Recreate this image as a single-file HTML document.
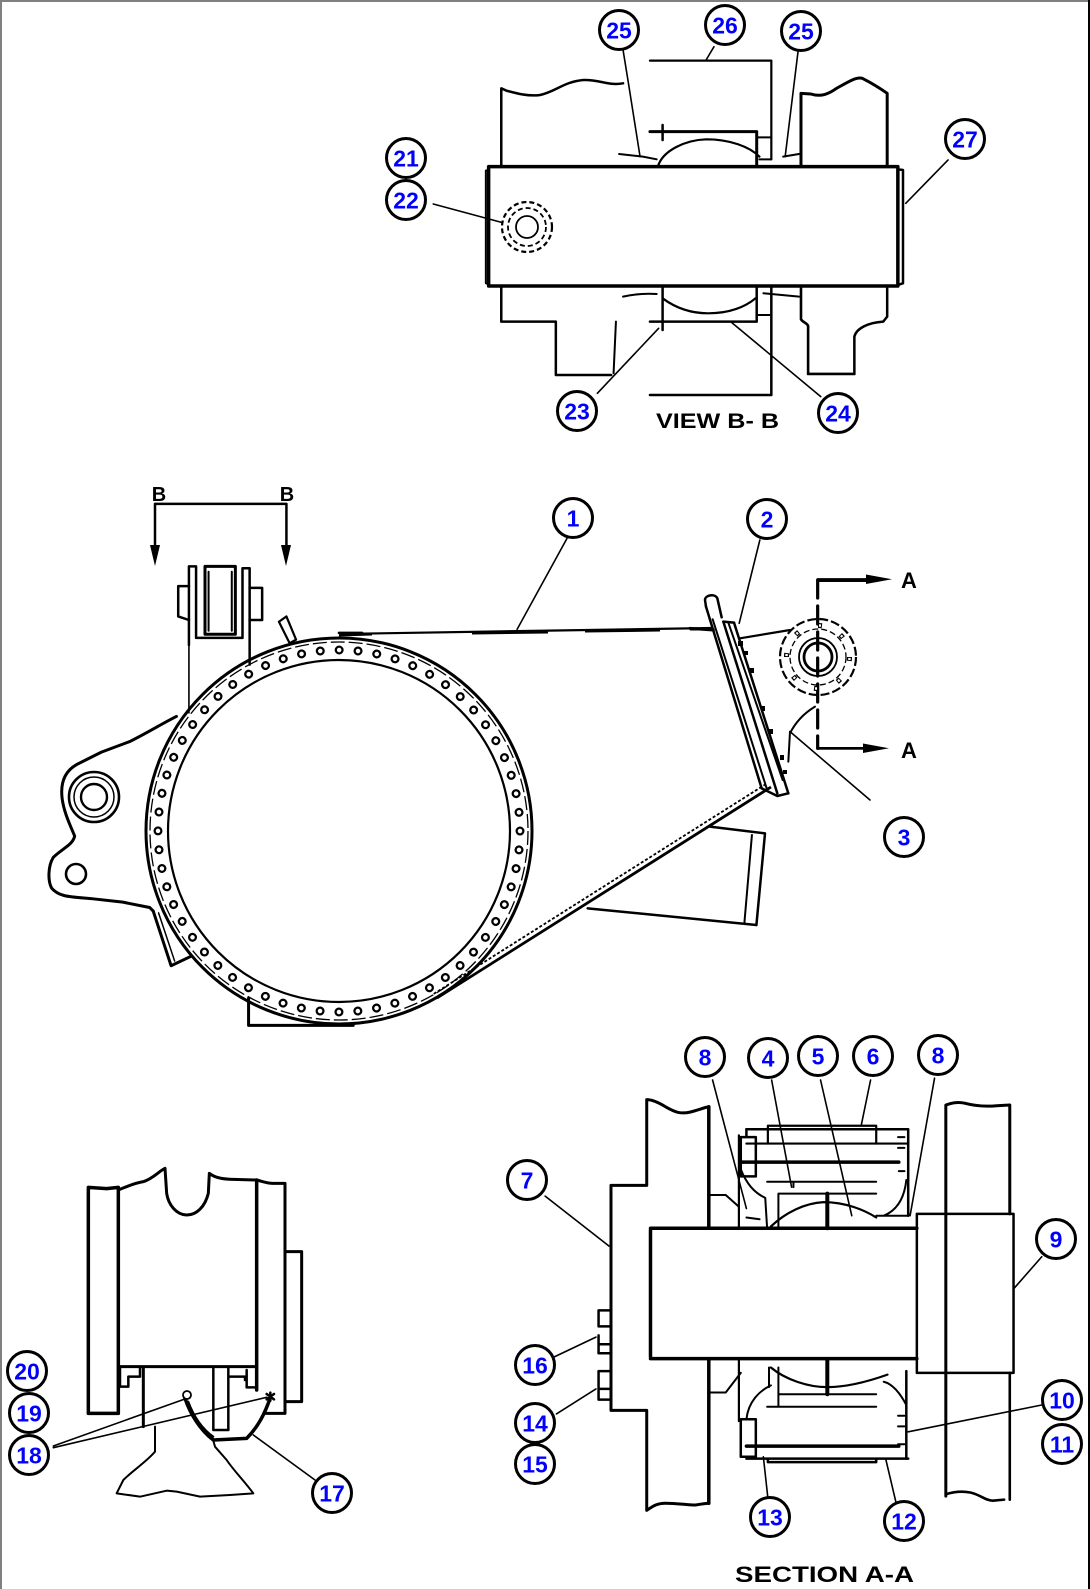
<!DOCTYPE html>
<html><head><meta charset="utf-8"><style>
html,body{margin:0;padding:0;background:#fff;}
svg{display:block;}
.l path,.l line,.l rect,.l polyline{vector-effect:non-scaling-stroke;fill:none;stroke:#000;stroke-linejoin:round;stroke-linecap:round;}
.bub circle{fill:#fff;stroke:#000;stroke-width:3;}
.bub text{font-family:"Liberation Sans",sans-serif;font-weight:bold;font-size:23px;fill:#0000ff;text-anchor:middle;}
.lbl{font-family:"Liberation Sans",sans-serif;font-weight:bold;fill:#000;}
</style></head><body>
<svg width="1090" height="1590" viewBox="0 0 1090 1590" xmlns="http://www.w3.org/2000/svg">
<rect x="0" y="0" width="1090" height="1590" fill="#fff"/>
<rect x="0" y="0" width="1090" height="2" fill="#808080"/>
<rect x="0" y="0" width="2" height="1590" fill="#808080"/>
<rect x="1088" y="0" width="2" height="1590" fill="#000"/>
<rect x="0" y="1589" width="1090" height="1" fill="#d4d0c8"/>

<!-- ================= VIEW B-B ================= -->
<g class="l" transform="translate(370,0) scale(0.3954,0.3333)">
 <path stroke-width="2.5" d="M332,500 L332,265 L345,272 C370,280 400,290 430,285 C470,275 490,245 540,240 C580,238 600,258 640,250"/>
 <path stroke-width="3" d="M1090,500 L1090,280 L1115,282 C1140,292 1160,282 1180,265 C1210,245 1230,230 1245,235 C1270,250 1290,265 1308,280 L1308,500"/>
 <path stroke-width="3.5" d="M300,500 L1335,500 L1335,858 L300,858 Z"/>
 <path stroke-width="2" d="M300,510 L293,512 L293,850 L300,852"/>
 <path stroke-width="2.5" d="M1335,508 L1348,510 L1348,850 L1335,855"/>
 <path stroke-width="3" d="M708,395 L978,395 L978,500"/>
 <path stroke-width="2.5" d="M740,375 L740,420"/>
 <path stroke-width="2.2" d="M728,500 C740,450 800,420 850,418 C910,418 960,440 985,470"/>
 <path stroke-width="2" d="M978,412 L1015,412 M985,478 L1015,478"/>
 <path stroke-width="2.2" d="M708,182 L1015,182 L1015,478"/>
 <path stroke-width="2" d="M630,462 L690,470 L725,478 M1045,470 L1085,462"/>
 <path stroke-width="2.5" d="M332,862 L332,965 L470,965 L470,1125 L610,1125"/>
 <path stroke-width="2" d="M622,965 L616,1120"/>
 <path stroke-width="2.5" d="M740,862 L740,990"/>
 <path stroke-width="2.5" d="M708,965 L978,965 L978,862"/>
 <path stroke-width="2.2" d="M740,895 C780,930 820,940 855,940 C910,940 950,920 975,895"/>
 <path stroke-width="2" d="M978,945 L1015,945"/>
 <path stroke-width="2.5" d="M1015,862 L1015,1185 L708,1185"/>
 <path stroke-width="2" d="M640,890 C670,882 700,880 725,882 M995,880 L1085,890"/>
 <path stroke-width="2.6" d="M1090,862 L1090,958 C1095,968 1105,968 1108,978 L1108,1122 L1225,1122"/>
 <path stroke-width="2.5" d="M1225,1120 L1225,1010 C1230,985 1260,968 1298,965 L1308,950 L1308,862"/>
 <path stroke-width="1.6" d="M640,150 L655,260 L683,470"/>
 <path stroke-width="1.6" d="M1083,150 L1050,470"/>
 <path stroke-width="1.6" d="M870,140 L850,180"/>
 <path stroke-width="1.6" d="M575,1180 L730,985"/>
 <path stroke-width="1.6" d="M1140,1190 L915,968"/>
 <path stroke-width="1.6" d="M160,612 L335,668"/>
 <path stroke-width="1.6" d="M1462,480 L1355,610"/>
</g>
<g fill="none" stroke="#000">
 <circle cx="527" cy="227" r="25" stroke-width="2.2" stroke-dasharray="5 3"/>
 <circle cx="527" cy="227" r="19" stroke-width="1.8" stroke-dasharray="5 3"/>
 <circle cx="527" cy="227" r="11" stroke-width="1.8"/>
</g>
<text class="lbl" x="656" y="428" font-size="21" textLength="123" lengthAdjust="spacingAndGlyphs">VIEW  B- B</text>

<!-- ================= MAIN VIEW ================= -->
<g fill="none" stroke="#000">
 <circle cx="339" cy="831" r="193" stroke-width="3"/>
 <circle cx="339" cy="831" r="189" stroke-width="1.3" stroke-dasharray="14 4"/>
 <circle cx="339" cy="831" r="171" stroke-width="2.2"/>
 <circle cx="339" cy="831" r="181" stroke-width="9" stroke-linecap="round" stroke-dasharray="0.01 18.94"/>
 <circle cx="339" cy="831" r="181" stroke="#fff" stroke-width="4.5" stroke-linecap="round" stroke-dasharray="0.01 18.94"/>
</g>
<g class="l" transform="translate(30,470) scale(0.35714)">
 <path stroke-width="2.5" d="M350,95 L718,95 M350,95 L350,230 M718,95 L718,230"/>
 <path stroke-width="3" d="M410,690 C370,710 330,735 280,760 L200,790 L130,825 C95,845 85,880 90,920 C95,960 115,1000 125,1025 C120,1050 90,1060 65,1085 C50,1110 50,1150 60,1170 C80,1195 110,1195 170,1200 L260,1210 L335,1225 L345,1235"/>
 <path stroke-width="3" d="M345,1235 L395,1388 L450,1362"/>
 <path stroke-width="1.5" d="M360,1240 L405,1375"/>
 <path stroke-width="3" d="M612,1478 L612,1555 L905,1555"/>
 <path stroke-width="2.5" d="M445,325 L415,325 L415,410 L445,420"/>
 <path stroke-width="2.5" d="M445,490 L445,270 L465,270 L465,470 L595,470 L595,275 L615,275 L615,545"/>
 <path stroke-width="2.5" d="M615,330 L650,330 L650,420 L615,420"/>
 <path stroke-width="3" d="M490,270 L575,270 L575,460 L490,460 Z"/>
 <path stroke-width="2" d="M500,285 L500,450 M565,285 L565,450"/>
 <path stroke-width="1.6" d="M445,490 L445,680"/>
 <path stroke-width="2.2" d="M697,425 L718,410 L745,475 L727,485 Z"/>
 <path stroke-width="2.5" d="M865,456 L930,456"/>
</g>
<polygon points="150,545 160,545 155,566" fill="#000"/>
<polygon points="281,545 291,545 286,566" fill="#000"/>
<text class="lbl" x="159" y="501" font-size="20" text-anchor="middle">B</text>
<text class="lbl" x="287" y="501" font-size="20" text-anchor="middle">B</text>
<g fill="none" stroke="#000">
 <circle cx="94" cy="797" r="25" stroke-width="2.6"/>
 <circle cx="94" cy="797" r="20" stroke-width="1.5"/>
 <circle cx="94" cy="797" r="13" stroke-width="2.4"/>
 <circle cx="76" cy="874" r="10" stroke-width="2.6"/>
</g>
<g stroke="#000" fill="none">
 <path d="M339,634 L712,628" stroke-width="2.2"/>
 <path d="M339,635 L372,634 M472,633 L548,632 M585,631 L660,630 M690,629 L712,629" stroke-width="3"/>
 <path d="M771,787 L437,998" stroke-width="2.8"/>
 <path d="M766,784 L432,995" stroke-width="1.8" stroke-dasharray="3 2"/>
</g>
<g class="l" transform="translate(400,490) scale(0.34435,0.33333)">
 <path stroke-width="2.5" d="M900,1010 L1060,1030 L1035,1305"/>
 <path stroke-width="2" d="M1022,1035 L1000,1300"/>
 <path stroke-width="2.5" d="M545,1255 L1035,1305"/>
 <path stroke-width="2.5" d="M1213,268 L1360,268 M1213,775 L1350,775"/>
 <path stroke-width="1.6" d="M485,145 L340,418"/>
 <path stroke-width="1.6" d="M1045,150 L985,400"/>
</g>
<polygon points="866,574.5 892,579.3 866,584" fill="#000"/>
<polygon points="863,743.5 889,748.3 863,753" fill="#000"/>
<text class="lbl" x="909" y="588" font-size="22" text-anchor="middle">A</text>
<text class="lbl" x="909" y="758" font-size="22" text-anchor="middle">A</text>
<g class="l" transform="translate(690,580) scale(0.33333)">
 <path stroke-width="2.5" d="M48,80 L45,60 C45,45 75,40 82,55 L95,112"/>
 <path stroke-width="2.5" d="M48,80 L215,625"/>
 <path stroke-width="2" d="M68,118 L230,625"/>
 <path stroke-width="2.5" d="M100,125 L262,640"/>
 <path stroke-width="2" d="M115,128 L278,600"/>
 <path stroke-width="2.5" d="M132,128 L295,640"/>
 <path stroke-width="2.5" d="M215,625 L262,648 L295,640"/>
 <path stroke-width="2.5" d="M100,125 L132,128"/>
 <path stroke-width="3" d="M0,145 L70,150"/>
 <path stroke-width="2.2" d="M150,175 L300,150"/>
 <path stroke-width="2" d="M300,460 C320,420 350,395 375,380 M300,455 L295,545"/>
 <path stroke-width="1.6" d="M300,455 L540,660"/>
 <path stroke-width="3.2" stroke-dasharray="18 8" d="M383,0 L383,505"/>
 <path stroke-width="2.6" d="M383,2 L540,2 M383,505 L540,505"/>
</g>
<g fill="#000">
 <rect x="738" y="641" width="5" height="5"/>
 <rect x="744" y="651" width="4" height="4"/>
 <rect x="749" y="668" width="5" height="5"/>
 <rect x="761" y="706" width="4" height="5"/>
 <rect x="768" y="729" width="5" height="5"/>
 <rect x="780" y="755" width="4" height="5"/>
 <rect x="783" y="770" width="4" height="4"/>
</g>
<g fill="none" stroke="#000">
 <circle cx="818" cy="657" r="38" stroke-width="2.2" stroke-dasharray="9 3"/>
 <circle cx="818" cy="657" r="28" stroke-width="1.3" stroke-dasharray="6 3"/>
 <circle cx="818" cy="657" r="19" stroke-width="1.8"/>
 <circle cx="818" cy="657" r="14" stroke-width="2.8"/>
 <circle cx="818" cy="657" r="31.5" stroke-width="5" stroke-dasharray="4 20.7"/>
 <circle cx="818" cy="657" r="31.5" stroke="#fff" stroke-width="2.5" stroke-dasharray="2 22.7" stroke-dashoffset="-1"/>
</g>

<!-- ================= SECTION A-A ================= -->
<g class="l" transform="translate(500,1030) scale(0.37622,0.35714)">
 <path stroke-width="3" d="M555,215 C540,218 525,225 505,230 C480,236 465,230 440,215 C420,202 405,195 390,195 L390,435 L295,435 L295,1065 L390,1065 L390,1345 C405,1335 415,1325 440,1325 C470,1325 500,1330 520,1330 C535,1328 545,1325 555,1325"/>
 <path stroke-width="3.5" d="M555,215 L555,555 M555,925 L555,1325"/>
 <path stroke-width="3" d="M1185,1305 L1185,210 C1200,205 1215,200 1235,205 C1260,212 1290,215 1320,212 L1355,210 L1355,515"/>
 <path stroke-width="2.6" d="M1355,960 L1355,1315 M1185,1300 C1200,1295 1225,1290 1250,1295 C1275,1300 1290,1318 1310,1318 L1340,1315"/>
 <path stroke-width="3.5" d="M400,555 L1108,555 M400,920 L1108,920 M400,560 L400,915"/>
 <path stroke-width="2.5" d="M1108,515 L1365,515 L1365,960 L1108,960 Z"/>
 <path stroke-width="2.5" d="M262,785 L295,785 M262,785 L262,830 L295,830 M262,855 L262,905 L295,905 M262,880 L295,880 M262,955 L295,955 L295,1035 L262,1035 Z M262,1005 L295,1005"/>
 <path stroke-width="2.5" d="M655,278 L1085,278 L1085,520"/>
 <path stroke-width="2.2" d="M712,268 L1000,268 L1000,318 M712,268 L712,318"/>
 <path stroke-width="2.2" d="M655,318 L1085,318"/>
 <path stroke-width="3.5" d="M640,370 L1060,370"/>
 <path stroke-width="2" d="M710,425 L1000,425 M740,458 L1000,458 M740,458 L740,555 M780,425 L780,440"/>
 <path stroke-width="2.5" d="M640,300 L680,300 L680,410 L640,410 Z M655,278 L655,300"/>
 <path stroke-width="2.2" d="M635,295 L635,555"/>
 <path stroke-width="2" d="M640,390 C655,430 675,455 705,470 L710,555"/>
 <path stroke-width="2" d="M1080,420 C1075,470 1055,505 1020,520 M1000,520 L1085,520"/>
 <path stroke-width="2.2" d="M720,550 C760,510 810,485 860,482 C920,482 970,505 1000,525"/>
 <path stroke-width="4" d="M870,458 L870,555 M870,925 L870,1020"/>
 <path stroke-width="2" d="M560,462 L600,462 L635,495 M655,525 L690,530"/>
 <path stroke-width="2" d="M1058,300 L1075,300 M1058,330 L1075,330 M1060,395 L1075,395"/>
 <path stroke-width="2.2" d="M635,925 L635,1095"/>
 <path stroke-width="2.2" d="M720,945 C760,980 820,1000 870,1000 C930,1000 990,980 1030,965"/>
 <path stroke-width="2" d="M740,1020 L1000,1020 M740,945 L740,1055 M710,1055 L1000,1055 M715,945 L715,1000"/>
 <path stroke-width="3.5" d="M655,1165 L1060,1165"/>
 <path stroke-width="2.5" d="M655,1200 L1085,1200 M712,1200 L712,1210 L1000,1210 L1000,1200"/>
 <path stroke-width="2.5" d="M640,1090 L680,1090 L680,1195 L640,1195 Z"/>
 <path stroke-width="2.5" d="M1080,955 L1080,1200"/>
 <path stroke-width="2" d="M655,1090 C660,1040 690,1010 720,995 M1080,1050 C1060,1010 1040,990 1020,985"/>
 <path stroke-width="2" d="M560,1015 L600,1015 L640,960"/>
 <path stroke-width="2" d="M1058,1080 L1075,1080 M1058,1110 L1075,1110 M1058,1160 L1075,1160"/>
 <path stroke-width="1.6" d="M565,140 L655,500 M722,140 L775,440 M852,140 L935,520 M985,140 L960,268 M1155,135 L1090,520"/>
 <path stroke-width="1.6" d="M120,465 L290,605 M1440,635 L1365,725 M145,915 L255,860 M150,1075 L255,1005 M1440,1050 L1085,1125 M713,1320 L700,1195 M1053,1325 L1025,1200"/>
</g>
<text class="lbl" x="735" y="1582" font-size="22" textLength="179" lengthAdjust="spacingAndGlyphs">SECTION  A-A</text>

<!-- ================= LOWER-LEFT VIEW ================= -->
<g class="l" transform="translate(0,1150) scale(0.33333)">
 <path stroke-width="3.5" d="M265,790 L265,112 L320,116 L355,112 L355,790 Z"/>
 <path stroke-width="3" d="M355,120 C380,110 400,100 430,95 C460,85 475,65 495,55 L500,130 C505,165 530,195 560,195 C590,195 615,170 625,130 L628,70 C640,80 660,88 700,88 L770,90"/>
 <path stroke-width="3" d="M355,650 L770,650"/>
 <path stroke-width="3.5" d="M770,90 L770,720"/>
 <path stroke-width="3" d="M770,90 C790,95 800,100 820,100 L855,100 L855,790 L795,790"/>
 <path stroke-width="3" d="M855,305 L905,305 L905,755 L855,755"/>
 <path stroke-width="2.5" d="M360,655 L360,710 L385,710 L385,680 L420,680 L420,655"/>
 <path stroke-width="3" d="M430,655 L430,830"/>
 <path stroke-width="2.5" d="M640,655 L640,840 L685,840 L685,655"/>
 <path stroke-width="2.5" d="M690,680 L735,680 L735,690 M740,660 L740,712 L765,712"/>
 <path stroke-width="3.5" d="M555,745 C570,790 600,840 640,870 L740,865 C775,830 795,790 812,740"/>
 <path stroke-width="2" d="M565,755 C580,795 605,835 640,860"/>
 <path stroke-width="2" d="M465,830 L465,905 C440,935 400,960 370,990 L350,1030 L420,1040 L500,1022 L530,1025 L600,1040 L690,1035 L760,1030 C730,990 700,960 680,930 L645,890 L640,872"/>
 <path stroke-width="1.6" d="M160,888 L560,745 M160,893 L800,742 M945,990 L760,855"/>
 <path stroke-width="2.5" d="M800,732 L822,748 M822,732 L800,748 M811,728 L811,752"/>
</g>
<circle cx="187" cy="1395" r="4" fill="#fff" stroke="#000" stroke-width="1.8"/>

<!-- ================= BUBBLES ================= -->
<g class="bub">
 <g><circle cx="619" cy="30" r="19.5"/><text x="619" y="38.5">25</text></g>
 <g><circle cx="725" cy="25" r="19.5"/><text x="725" y="33.5">26</text></g>
 <g><circle cx="801" cy="31" r="19.5"/><text x="801" y="39.5">25</text></g>
 <g><circle cx="965" cy="139" r="19.5"/><text x="965" y="147.5">27</text></g>
 <g><circle cx="406" cy="158" r="19.5"/><text x="406" y="166.5">21</text></g>
 <g><circle cx="406" cy="200" r="19.5"/><text x="406" y="208.5">22</text></g>
 <g><circle cx="577" cy="411" r="19.5"/><text x="577" y="419.5">23</text></g>
 <g><circle cx="838" cy="413" r="19.5"/><text x="838" y="421.5">24</text></g>
 <g><circle cx="573" cy="518" r="19.5"/><text x="573" y="526.5">1</text></g>
 <g><circle cx="767" cy="519" r="19.5"/><text x="767" y="527.5">2</text></g>
 <g><circle cx="904" cy="837" r="19.5"/><text x="904" y="845.5">3</text></g>
 <g><circle cx="705" cy="1057" r="19.5"/><text x="705" y="1065.5">8</text></g>
 <g><circle cx="768" cy="1058" r="19.5"/><text x="768" y="1066.5">4</text></g>
 <g><circle cx="818" cy="1056" r="19.5"/><text x="818" y="1064.5">5</text></g>
 <g><circle cx="873" cy="1056" r="19.5"/><text x="873" y="1064.5">6</text></g>
 <g><circle cx="938" cy="1055" r="19.5"/><text x="938" y="1063.5">8</text></g>
 <g><circle cx="527" cy="1180" r="19.5"/><text x="527" y="1188.5">7</text></g>
 <g><circle cx="1056" cy="1239" r="19.5"/><text x="1056" y="1247.5">9</text></g>
 <g><circle cx="535" cy="1365" r="19.5"/><text x="535" y="1373.5">16</text></g>
 <g><circle cx="535" cy="1423" r="19.5"/><text x="535" y="1431.5">14</text></g>
 <g><circle cx="535" cy="1464" r="19.5"/><text x="535" y="1472.5">15</text></g>
 <g><circle cx="1062" cy="1400" r="19.5"/><text x="1062" y="1408.5">10</text></g>
 <g><circle cx="1062" cy="1444" r="19.5"/><text x="1062" y="1452.5">11</text></g>
 <g><circle cx="770" cy="1517" r="19.5"/><text x="770" y="1525.5">13</text></g>
 <g><circle cx="904" cy="1521" r="19.5"/><text x="904" y="1529.5">12</text></g>
 <g><circle cx="27" cy="1371" r="19.5"/><text x="27" y="1379.5">20</text></g>
 <g><circle cx="29" cy="1413" r="19.5"/><text x="29" y="1421.5">19</text></g>
 <g><circle cx="29" cy="1455" r="19.5"/><text x="29" y="1463.5">18</text></g>
 <g><circle cx="332" cy="1493" r="19.5"/><text x="332" y="1501.5">17</text></g>
</g>
</svg>
</body></html>
